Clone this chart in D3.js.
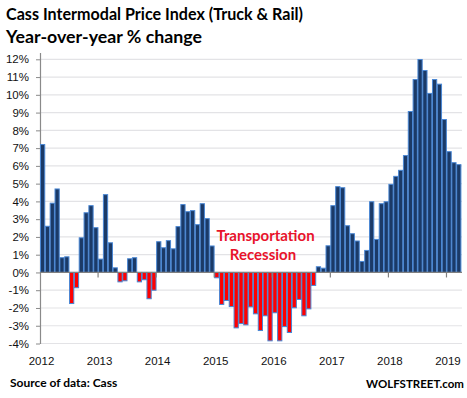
<!DOCTYPE html>
<html>
<head>
<meta charset="utf-8">
<script src="https://cdn.jsdelivr.net/npm/d3@7"></script>
<style>
  body { margin: 0; background: #fff; }
  svg { display: block; }
</style>
</head>
<body>
<svg id="chart" width="467" height="398"></svg>
<script>
// monthly YoY % change, Jan 2012 - Mar 2019
const years = [2012, 2013, 2014, 2015, 2016, 2017, 2018, 2019]
const values2012 = [7.2, 2.6, 3.9, 4.7, 0.83, 0.88, -1.75, -0.86, 1.95, 3.36, 3.76, 2.52]
const values2013 = [0.75, 4.38, 1.67, 0.26, -0.53, -0.47, 0.77, 0.83, -0.53, -0.41, -1.48, -1.0]
const values2014 = [1.73, 1.39, 1.79, 1.33, 2.58, 3.82, 3.42, 3.48, 2.69, 3.87, 3.03, 1.49]
const values2015 = [-0.3, -1.8, -1.58, -1.92, -3.12, -2.88, -2.95, -1.94, -2.33, -3.27, -2.44, -3.85]
const values2016 = [-2.27, -3.85, -3.05, -3.38, -1.99, -1.52, -2.44, -2.05, -0.73, 0.32, 0.24, 1.5]
const values2017 = [3.76, 4.83, 4.77, 2.63, 2.18, 1.77, 0.62, 1.24, 3.98, 1.86, 3.87, 3.98]
const values2018 = [4.96, 5.41, 5.75, 6.58, 9.06, 10.86, 11.99, 11.37, 10.08, 10.86, 10.6, 8.61]
const values2019 = [6.8, 6.18, 6.07]
const yTicks = [-4, -3, -2, -1, 0, 1, 2, 3, 4, 5, 6, 7, 8, 9, 10, 11, 12]

const allYears = [values2012, values2013, values2014, values2015, values2016, values2017, values2018, values2019]

//flatten into month records
const data = []
allYears.forEach((vals, i) => {
  vals.forEach((v, m) => {
    data.push({ key: years[i] + '-' + (m + 1), year: years[i], month: m, value: v })
  })
})

const svg = d3.select('#chart')

//scales
const x = d3.scaleBand()
  .domain(data.map(d => d.key))
  .range([40, 461])
  .padding(0)

const y = d3.scaleLinear()
  .domain([-4, 12])
  .range([343.5, 59.3])

//gridlines
svg.append('g')
  .selectAll('line')
  .data(yTicks.filter(d => d !== 0))
  .join('line')
  .attr('x1', 40)
  .attr('x2', 462)
  .attr('y1', d => y(d))
  .attr('y2', d => y(d))
  .attr('stroke', '#e3e3e6')
  .attr('stroke-width', 1.2)

//y axis
const yAxis = d3.axisLeft(y)
  .tickValues(yTicks)
  .tickSize(4)
  .tickPadding(7)
  .tickFormat(d => d + '%')

const yAxisGroup = svg.append('g')
  .attr('transform', 'translate(40,0)')
  .call(yAxis)

yAxisGroup.select('.domain').remove()
yAxisGroup.selectAll('line').attr('stroke', '#8a8a8a')
yAxisGroup.selectAll('text')
  .attr('font-family', 'Liberation Sans, Arial, sans-serif')
  .attr('font-size', 11.5)
  .attr('fill', '#111')

svg.append('line')
  .attr('x1', 40.5).attr('x2', 40.5)
  .attr('y1', 53).attr('y2', 344)
  .attr('stroke', '#8a8a8a')
  .attr('stroke-width', 1.2)

//bars
svg.append('g')
  .selectAll('rect')
  .data(data)
  .join('rect')
  .attr('x', d => x(d.key) + 0.5)
  .attr('width', x.bandwidth() - 0.6)
  .attr('y', d => y(Math.max(0, d.value)))
  .attr('height', d => Math.abs(y(d.value) - y(0)))
  .attr('fill', d => d.value >= 0 ? '#1b3a67' : '#ff0000')
  .attr('stroke', '#4a87d4')
  .attr('stroke-width', 1)

//zero line
svg.append('line')
  .attr('x1', 40).attr('x2', 462)
  .attr('y1', y(0)).attr('y2', y(0))
  .attr('stroke', '#808080')
  .attr('stroke-width', 1.2)

//year ticks and labels
const yearGroup = svg.append('g')
years.forEach(yr => {
  const xp = x(yr + '-1')
  if (yr !== 2012) {
    yearGroup.append('line')
      .attr('x1', xp).attr('x2', xp)
      .attr('y1', y(0)).attr('y2', y(0) + 5)
      .attr('stroke', '#808080')
      .attr('stroke-width', 1.2)
  }
  yearGroup.append('text')
    .attr('x', xp + 1.5)
    .attr('y', 365)
    .attr('text-anchor', 'middle')
    .attr('font-family', 'Liberation Sans, Arial, sans-serif')
    .attr('font-size', 11.5)
    .attr('fill', '#111')
    .text(yr)
})

//titles
svg.append('text')
  .attr('x', 6).attr('y', 20)
  .attr('font-family', 'Lato, sans-serif')
  .attr('font-weight', 'bold')
  .attr('font-size', 17.5)
  .attr('textLength', 297)
  .attr('lengthAdjust', 'spacingAndGlyphs')
  .text('Cass Intermodal Price Index (Truck & Rail)')

svg.append('text')
  .attr('x', 6).attr('y', 43)
  .attr('font-family', 'Lato, sans-serif')
  .attr('font-weight', 'bold')
  .attr('font-size', 16.5)
  .attr('textLength', 196)
  .attr('lengthAdjust', 'spacingAndGlyphs')
  .text('Year-over-year % change')

//annotation
const note = svg.append('text')
  .attr('font-family', 'Lato, sans-serif')
  .attr('font-weight', 'bold')
  .attr('font-size', 15)
  .attr('fill', '#e8132b')
  .attr('text-anchor', 'middle')

note.append('tspan').attr('x', 265.5).attr('y', 241).text('Transportation')
note.append('tspan').attr('x', 263).attr('y', 260).text('Recession')

//footer
svg.append('text')
  .attr('x', 10).attr('y', 387)
  .attr('font-family', 'Lato, sans-serif')
  .attr('font-weight', 'bold')
  .attr('font-size', 12)
  .text('Source of data: Cass')

svg.append('text')
  .attr('x', 464).attr('y', 388)
  .attr('text-anchor', 'end')
  .attr('font-family', 'Lato, sans-serif')
  .attr('font-weight', 'bold')
  .attr('font-size', 11.5)
  .text('WOLFSTREET.com')
</script>
</body>
</html>
